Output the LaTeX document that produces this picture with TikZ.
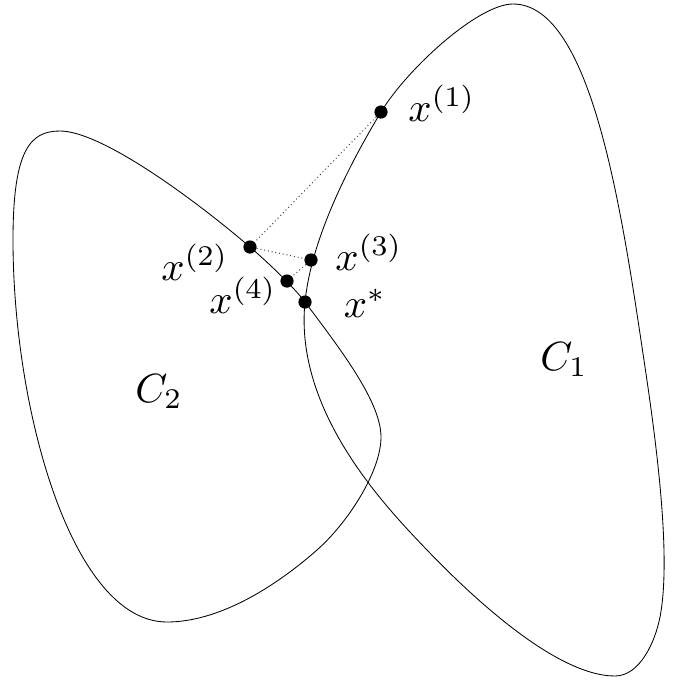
\documentclass[tikz,border=0pt]{standalone}
\begin{document}
\begin{tikzpicture}[x=0.025cm,y=-0.025cm,
  curve/.style={line width=0.6pt, black, line join=round},
  dot/.style={circle, fill=black, inner sep=0pt, minimum size=0.33cm},
  lab/.style={scale=2.9, inner sep=0pt},
  link/.style={dotted, line width=0.7pt, black!75}]
\useasboundingbox (0,0) rectangle (676,680);
% C1
\draw[curve] (381,112)
  .. controls (344.8,172) and (311,242.3) .. (305,302)
  .. controls (294,411.5) and (385.6,506.8) .. (427,550)
  .. controls (468.4,593.2) and (555,676) .. (615,676)
  .. controls (640,676) and (655.25,641.5) .. (660,617)
  .. controls (671.4,558.2) and (656.8,446.1) .. (645,367)
  .. controls (622.8,218.7) and (593,4) .. (513,4)
  .. controls (478,4) and (406.9,69.15) .. cycle;
% C2
\draw[curve] (250,247)
  .. controls (265.2,260) and (293,286) .. (305,302)
  .. controls (341,350) and (381,402) .. (381,437)
  .. controls (381,472) and (347,523.6) .. (317,550)
  .. controls (272,589.6) and (217,622) .. (167,622)
  .. controls (72,622) and (13,410) .. (13,240)
  .. controls (13,150) and (30,131) .. (60,131)
  .. controls (100,131) and (189.2,195) .. cycle;
% points
\node[dot] (p1) at (381,112) {};
\node[dot] (p2) at (250,247) {};
\node[dot] (p3) at (311,260) {};
\node[dot] (p4) at (287,281) {};
\node[dot] (ps) at (305,302) {};
\draw[link] (p1) -- (p2);
\draw[link] (p2) -- (p3);
\draw[link] (p3) -- (p4);
% labels
\node[lab] (l1) at (442,103) {$x^{(1)}$};
\node[lab] (l2) at (195,262) {$x^{(2)}$};
\node[lab] (l3) at (369,252) {$x^{(3)}$};
\node[lab] (l4) at (243,295) {$x^{(4)}$};
\node[lab] (ls) at (365,303) {$x^{*}$};
\node[lab] (c1) at (564,360) {$C_1$};
\node[lab] (c2) at (159,392) {$C_2$};
\end{tikzpicture}
\end{document}
